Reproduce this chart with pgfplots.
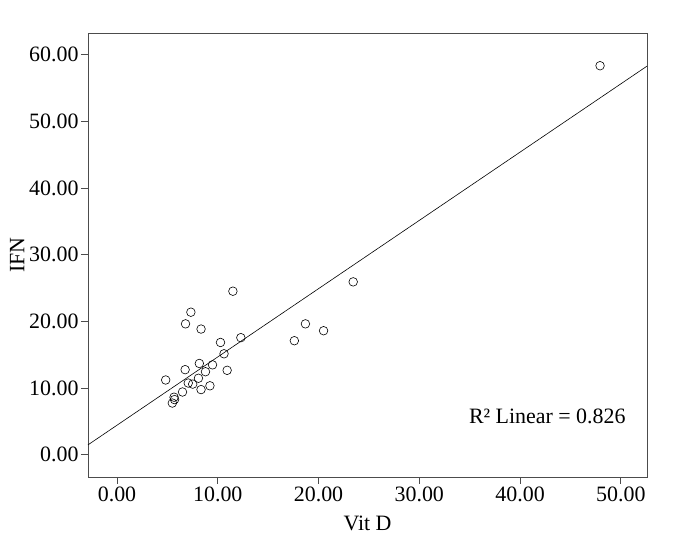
\documentclass[border=0pt]{standalone}
\usepackage{fontspec}
\setmainfont{Liberation Serif}
\usepackage{pgfplots}
\pgfplotsset{compat=1.18}
\begin{document}
\begin{tikzpicture}
\begin{axis}[
  scale only axis,
  width=559bp, height=444bp,
  xmin=-2.88, xmax=52.6, ymin=-3.35, ymax=63.25,
  xtick={0,10,20,30,40,50}, ytick={0,10,20,30,40,50,60},
  xticklabels={0.00,10.00,20.00,30.00,40.00,50.00},
  yticklabels={0.00,10.00,20.00,30.00,40.00,50.00,60.00},
  tick pos=left, tick align=outside,
  major tick length=7bp,
  axis line style={black!70, line width=0.7pt},
  tick style={black!70, line width=0.7pt},
  every tick label/.style={font=\fontsize{22}{24}\selectfont},
  xticklabel style={yshift=1bp},
  yticklabel style={xshift=1bp},
  xlabel={Vit D}, ylabel={IFN},
  label style={font=\fontsize{22}{24}\selectfont},
  xlabel style={yshift=-8bp},
  ylabel style={yshift=-2bp},
  clip=true,
]
\addplot[black, line width=0.6pt, no marks] coordinates {(-2.88,1.47) (52.6,58.28)};
\addplot[only marks, mark=o, mark size=4.3bp, mark options={black, line width=0.6pt}] coordinates {
(47.94,58.34) (23.44,25.92) (11.50,24.52) (7.33,21.37) (6.80,19.62)
(8.34,18.84) (18.70,19.62) (20.50,18.59) (17.60,17.09) (12.29,17.55)
(10.27,16.83) (10.62,15.13) (8.17,13.68) (9.48,13.47) (6.76,12.75)
(10.93,12.65) (8.78,12.44) (4.83,11.20) (8.08,11.46) (7.07,10.74)
(7.51,10.58) (9.22,10.33) (8.34,9.76) (6.50,9.40) (5.66,8.62)
(5.71,8.26) (5.49,7.74)
};
\node[font=\fontsize{22}{24}\selectfont] at (axis cs:42.7,5.7) {R² Linear = 0.826};
\end{axis}
\pgfresetboundingbox
\path ([shift={(-88bp,-64bp)}]current axis.south west) rectangle ([shift={(45bp,33bp)}]current axis.north east);
\end{tikzpicture}
\end{document}
